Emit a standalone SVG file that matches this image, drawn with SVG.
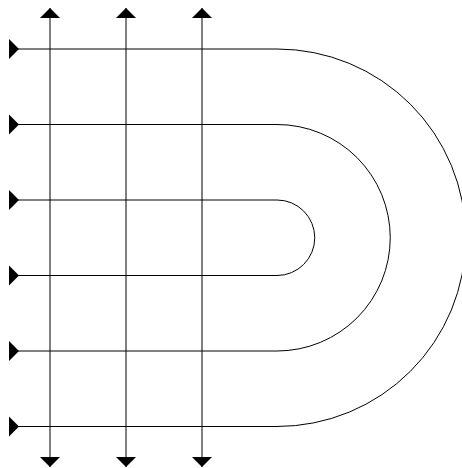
<svg xmlns="http://www.w3.org/2000/svg" width="462" height="468" viewBox="0 0 462 468">
  <defs>
    <marker id="tipArrow" markerUnits="userSpaceOnUse" markerWidth="12" markerHeight="22" viewBox="-11 -11 12 22" refX="0" refY="0" orient="auto-start-reverse" overflow="visible">
      <path d="M-10,-10 L0,0 L-10,10 z" fill="#000"/>
    </marker>
    <marker id="baseArrow" markerUnits="userSpaceOnUse" markerWidth="12" markerHeight="22" viewBox="-1 -11 12 22" refX="0" refY="0" orient="auto" overflow="visible">
      <path d="M0,-10 L10,0 L0,10 z" fill="#000"/>
    </marker>
    <style>
      .ln { fill: none; stroke: #000; stroke-width: 1; }
      .hz { marker-start: url(#baseArrow); }
      .vt { marker-start: url(#tipArrow); marker-end: url(#tipArrow); }
    </style>
  </defs>
  <rect width="462" height="468" fill="#fff"/>
  <g id="connectors">
    <g id="loop-outer">
      <path class="ln hz" d="M9,49 L277,49 A188.75,188.75 0 0 1 277,426.5 L19,426.5"/>
      <path class="ln hz" d="M9,426.5 L19,426.5"/>
    </g>
    <g id="loop-middle">
      <path class="ln hz" d="M9,124.5 L277,124.5 A113.25,113.25 0 0 1 277,351 L19,351"/>
      <path class="ln hz" d="M9,351 L19,351"/>
    </g>
    <g id="loop-inner">
      <path class="ln hz" d="M9,200 L277,200 A37.75,37.75 0 0 1 277,275.5 L19,275.5"/>
      <path class="ln hz" d="M9,275.5 L19,275.5"/>
    </g>
    <g id="verticals">
      <path class="ln vt" d="M50,467 L50,8"/>
      <path class="ln vt" d="M126,467 L126,8"/>
      <path class="ln vt" d="M202,467 L202,8"/>
    </g>
  </g>
</svg>
